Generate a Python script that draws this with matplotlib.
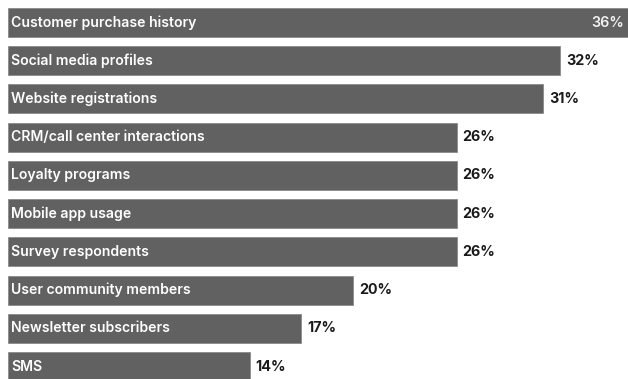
import matplotlib
matplotlib.use("Agg")
import matplotlib.pyplot as plt

categories = ["Customer purchase history", "Social media profiles", "Website registrations",
              "CRM/call center interactions", "Loyalty programs", "Mobile app usage",
              "Survey respondents", "User community members", "Newsletter subscribers", "SMS"]
values = [36, 32, 31, 26, 26, 26, 26, 20, 17, 14]
value_labels = ["36%", "32%", "31%", "26%", "26%", "26%", "26%", "20%", "17%", "14%"]

plt.rcParams['font.family'] = ['Inter', 'DejaVu Sans']

fig = plt.figure(figsize=(6.28, 3.79), dpi=100)
ax = fig.add_axes([0, 0, 1, 1])
ypos = list(range(len(categories)))
ax.barh(ypos, values, height=0.76, color="#616161", edgecolor="#8a8a8a", linewidth=0.6)

for i, (c, v, lab) in enumerate(zip(categories, values, value_labels)):
    ax.text(0.18, i, c, color="white", fontsize=10.1, fontweight="semibold", va="center", ha="left")
    if i == 0:
        ax.text(v - 0.3, i, lab, color="#f2f2f2", fontsize=10.3, fontweight="semibold", va="center", ha="right")
    else:
        ax.text(v + 0.35, i, lab, color="#1a1a1a", fontsize=10.3, fontweight="bold", va="center", ha="left")

ax.set_xlim(-0.464, 35.94)
ax.set_ylim(9.327, -0.589)
ax.axis("off")
fig.savefig("out.png", dpi=100)
